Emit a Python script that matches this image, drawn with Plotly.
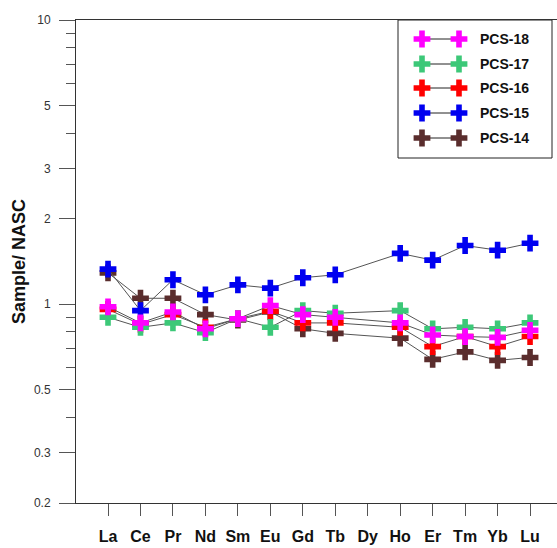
import plotly.graph_objects as go

# Rare earth elements, NASC-normalised
elements = ["La", "Ce", "Pr", "Nd", "Sm", "Eu", "Gd", "Tb", "Dy", "Ho", "Er", "Tm", "Yb", "Lu"]

pcs14 = [1.29, 1.05, 1.05, 0.92, 0.88, 0.94, 0.82, 0.79, None, 0.76, 0.64, 0.68, 0.635, 0.65]
pcs15 = [1.33, 0.95, 1.22, 1.08, 1.17, 1.14, 1.24, 1.27, None, 1.51, 1.43, 1.61, 1.55, 1.64]
pcs16 = [0.96, 0.85, 0.92, 0.83, 0.89, 0.945, 0.86, 0.86, None, 0.83, 0.71, 0.77, 0.71, 0.77]
pcs17 = [0.90, 0.83, 0.86, 0.795, 0.89, 0.83, 0.95, 0.93, None, 0.95, 0.82, 0.83, 0.82, 0.86]
pcs18 = [0.98, 0.86, 0.94, 0.82, 0.89, 0.99, 0.92, 0.90, None, 0.86, 0.78, 0.77, 0.765, 0.81]

sample_names = ["PCS-14", "PCS-15", "PCS-16", "PCS-17", "PCS-18"]
sample_values = [pcs14, pcs15, pcs16, pcs17, pcs18]
sample_colors = ["#5A2D2D", "#0000F0", "#FF0000", "#3CC878", "#FF00FF"]

y_major = [0.2, 0.3, 0.5, 1, 2, 3, 5, 10]
y_major_text = ["0.2", "0.3", "0.5", "1", "2", "3", "5", "10"]
y_minor = [0.4, 0.6, 0.7, 0.8, 0.9, 4, 6, 7, 8, 9]

W, H = 557, 548
L, T, B = 76, 20, 45
LINE = "#555555"
FONT = "Liberation Sans, Arial, sans-serif"

fig = go.Figure()

x_idx = list(range(len(elements)))
for name, vals, col in zip(sample_names, sample_values, sample_colors):
    fig.add_trace(go.Scatter(
        x=x_idx, y=vals, name=name, mode="lines+markers",
        connectgaps=True,
        line=dict(color=LINE, width=1),
        marker=dict(symbol="cross", size=14, color=col, line=dict(width=0)),
        showlegend=False,
    ))

# Legend drawn on an overlay axis measured in pixels
legend_rows = [39, 64, 88, 113, 138]
for name, col, yy in zip(sample_names[::-1], sample_colors[::-1], legend_rows):
    fig.add_trace(go.Scatter(
        x=[422, 459], y=[yy, yy], mode="lines+markers",
        xaxis="x2", yaxis="y2",
        line=dict(color="#222222", width=1),
        marker=dict(symbol="cross", size=14, color=col, line=dict(width=0)),
        showlegend=False, hoverinfo="skip",
    ))
    fig.add_annotation(
        x=478, y=yy, xref="x2", yref="y2", text=name, showarrow=False,
        xanchor="left", yanchor="middle",
        font=dict(family=FONT, size=14, color="#111111", weight="bold"),
    )

fig.add_shape(type="rect", xref="x2", yref="y2", x0=398, x1=552, y0=20, y1=158,
              line=dict(color="#222222", width=1), fillcolor="rgba(0,0,0,0)", layer="above")

fig.update_layout(
    width=W, height=H,
    margin=dict(l=L, r=0, t=T, b=B),
    paper_bgcolor="white", plot_bgcolor="white",
    font=dict(family=FONT),
    xaxis=dict(
        range=[-0.986, 13.83],
        tickmode="array", tickvals=x_idx, ticktext=elements,
        ticks="outside", ticklen=12, tickcolor=LINE, tickwidth=1,
        ticklabelstandoff=7,
        showline=True, linecolor="#333333", linewidth=1, mirror=True,
        showgrid=False, zeroline=False,
        tickfont=dict(family=FONT, size=16, color="#111111", weight="bold"),
    ),
    yaxis=dict(
        type="log", range=[-0.69897, 1.0],
        tickmode="array", tickvals=y_major, ticktext=y_major_text,
        ticks="outside", ticklen=16, tickcolor=LINE, tickwidth=1,
        ticklabelstandoff=6,
        minor=dict(tickmode="array", tickvals=y_minor, ticks="outside", ticklen=9,
                   tickcolor=LINE, showgrid=False),
        showline=True, linecolor="#333333", linewidth=1,
        showgrid=False, zeroline=False,
        tickfont=dict(family=FONT, size=12, color="#333333"),
        title=dict(text="Sample/ NASC", standoff=3,
                   font=dict(family=FONT, size=18, color="#111111", weight="bold")),
    ),
    xaxis2=dict(domain=[0, 1], range=[L, W], overlaying="x", visible=False, fixedrange=True),
    yaxis2=dict(domain=[0, 1], range=[H - B, T], overlaying="y", visible=False, fixedrange=True),
)

fig.write_html("out.html")
